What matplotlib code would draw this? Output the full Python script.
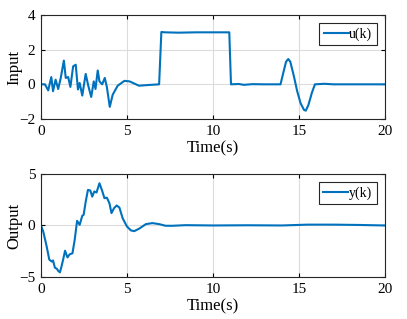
import numpy as np
import matplotlib
matplotlib.use("Agg")
import matplotlib.pyplot as plt

plt.rcParams['font.family'] = ['Liberation Serif', 'DejaVu Serif']

# входной сигнал u(k)
t_u = [0, 0.23, 0.42, 0.6, 0.7, 0.85, 1.0, 1.15, 1.33, 1.44, 1.58, 1.71, 1.87, 2.02,
       2.15, 2.25, 2.4, 2.6, 2.75, 2.92, 3.07, 3.17, 3.3, 3.4, 3.56, 3.71, 3.83, 4.0,
       4.17, 4.46, 4.85, 5.15, 5.7, 6.1, 6.87, 7.0, 7.2, 8.0, 9.0, 10.0, 10.95, 11.05,
       11.5, 11.8, 12.3, 13.0, 13.93, 14.1, 14.25, 14.38, 14.5, 14.7, 14.9, 15.1, 15.3,
       15.4, 15.55, 15.75, 15.93, 16.5, 17.0, 18.0, 20.0]
u = [0, 0, -0.35, 0.42, -0.4, 0.27, -0.27, 0.37, 1.37, 0.37, 0.42, -0.15, 1.04, 1.13,
     -0.3, 0.08, -0.65, 0.6, -0.08, -0.73, 0.17, -0.27, 0.8, 0.17, 0.0, 0.37, -0.15, -1.3,
     -0.6, -0.08, 0.2, 0.17, -0.08, -0.05, 0.0, 3.02, 3.0, 2.98, 3.0, 3.0, 3.0, 0.0,
     0.02, -0.03, 0.01, 0.0, 0.0, 0.7, 1.3, 1.46, 1.3, 0.5, -0.4, -1.1, -1.48,
     -1.52, -1.2, -0.5, 0.0, 0.03, 0.0, 0.0, 0.0]

# выход y(k)
t_y = [0, 0.13, 0.33, 0.48, 0.62, 0.7, 0.81, 0.92, 1.0, 1.1, 1.19, 1.29, 1.4, 1.54,
       1.67, 1.83, 1.96, 2.1, 2.25, 2.4, 2.48, 2.6, 2.73, 2.87, 2.98, 3.1, 3.23, 3.4,
       3.56, 3.69, 3.83, 3.98, 4.1, 4.25, 4.4, 4.56, 4.75, 5.0, 5.23, 5.42, 5.7, 6.1,
       6.48, 6.87, 7.25, 7.65, 8.4, 10.0, 12.0, 14.0, 15.5, 17.0, 18.5, 20.0]
y = [0, -0.58, -2.03, -3.3, -3.5, -3.4, -4.1, -4.2, -4.4, -4.55, -4.0, -3.3, -2.45, -3.1,
     -2.8, -2.7, -1.4, 0.45, 0.06, 0.94, 1.03, 2.3, 3.45, 3.39, 2.8, 3.3, 3.2, 4.1,
     3.35, 2.65, 2.7, 2.16, 1.2, 1.68, 1.94, 1.74, 0.7, -0.1, -0.48, -0.55, -0.32, 0.13,
     0.23, 0.13, -0.03, -0.03, 0.03, 0.0, 0.02, 0.0, 0.08, 0.08, 0.05, 0.0]

blue = (0, 0.447, 0.741)


def style_axes(ax, ylim, yticks, ylabel):
    ax.set_xlim(0, 20)
    ax.set_ylim(*ylim)
    ax.set_xticks([0, 5, 10, 15, 20])
    ax.set_yticks(yticks)
    ax.grid(True, color='#dcdcdc', linewidth=0.8)
    ax.set_axisbelow(True)
    ax.tick_params(direction='in', top=True, right=True, labelsize=11, length=3, pad=4)
    for s in ax.spines.values():
        s.set_color('#262626')
        s.set_linewidth(0.8)
    ax.set_xlabel('Time(s)', fontsize=12, labelpad=2)
    ax.set_ylabel(ylabel, fontsize=12, labelpad=-2)


def main():
    fig = plt.figure(figsize=(4.07, 3.19), dpi=100)
    ax1 = fig.add_axes([0.1007, 0.627, 0.845, 0.326])
    ax2 = fig.add_axes([0.1007, 0.1317, 0.845, 0.323])

    ax1.plot(t_u, u, color=blue, linewidth=1.5, label='u(k)')
    style_axes(ax1, (-2, 4), [-2, 0, 2, 4], 'Input')

    ax2.plot(t_y, y, color=blue, linewidth=1.5, label='y(k)')
    style_axes(ax2, (-5, 5), [-5, 0, 5], 'Output')

    for ax in (ax1, ax2):
        leg = ax.legend(loc='upper right', fontsize=10, fancybox=False, framealpha=1,
                        edgecolor='#262626', handlelength=1.8, handletextpad=0.05,
                        borderpad=0.3, borderaxespad=0.6)
        leg.get_frame().set_linewidth(0.8)

    fig.savefig('out.png', dpi=100)


if __name__ == "__main__":
    main()
